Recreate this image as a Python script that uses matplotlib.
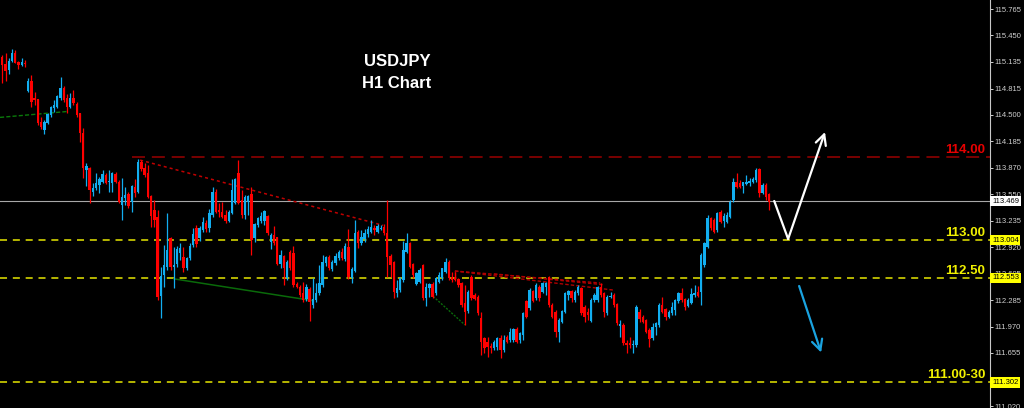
import matplotlib
matplotlib.use("Agg")
import matplotlib.pyplot as plt
import matplotlib.transforms as mtransforms
import numpy as np

plt.rcParams['font.family'] = ['Liberation Sans', 'DejaVu Sans']

# ---------------- data (USDJPY H1 candles) ----------------
opens = [
115.19,115.11,115.04,115.14,115.24,115.13,115.10,115.12,114.79,114.91,
114.70,114.69,114.42,114.32,114.40,114.50,114.58,114.59,114.70,114.82,
114.70,114.59,114.70,114.63,114.52,114.28,113.84,113.87,113.58,113.63,
113.66,113.70,113.78,113.70,113.69,113.79,113.70,113.42,113.51,113.55,
113.46,113.64,113.58,113.94,113.87,113.81,113.53,113.36,113.28,112.34,
112.59,112.68,113.03,112.68,112.72,112.85,112.80,112.67,112.79,112.95,
113.15,113.03,113.12,113.21,113.15,113.30,113.58,113.36,113.34,113.30,
113.23,113.33,113.45,113.81,113.48,113.30,113.46,113.55,113.03,113.18,
113.23,113.23,113.29,112.98,113.06,113.04,112.72,112.81,112.55,112.86,
112.85,112.48,112.44,112.37,112.30,112.42,112.23,112.29,112.37,112.47,
112.73,112.80,112.66,112.73,112.79,112.86,112.78,112.92,112.55,112.63,
113.10,112.97,113.02,113.08,113.10,113.15,113.10,113.14,113.16,113.09,
112.81,112.74,112.37,112.41,112.53,112.86,112.97,112.72,112.48,112.50,
112.71,112.31,112.43,112.48,112.37,112.50,112.55,112.62,112.74,112.56,
112.56,112.54,112.49,112.25,112.16,112.56,112.35,112.32,112.07,111.83,
111.79,111.74,111.71,111.73,111.83,111.69,111.85,111.81,111.81,111.94,
111.81,111.87,112.28,112.19,112.40,112.31,112.44,112.38,112.44,112.56,
112.23,112.14,111.91,112.02,112.14,112.35,112.40,112.29,112.37,112.43,
112.20,112.14,112.04,112.29,112.29,112.44,112.37,112.13,112.32,112.35,
112.24,111.98,111.99,111.77,111.77,111.75,111.75,112.14,112.08,112.05,
111.93,111.83,111.96,111.99,112.23,112.18,112.08,112.13,112.17,112.28,
112.37,112.30,112.22,112.25,112.35,112.38,112.38,112.71,112.92,113.27,
113.24,113.12,113.34,113.23,113.22,113.28,113.48,113.70,113.69,113.65,
113.67,113.69,113.70,113.72,113.85,113.57,113.66,113.55]

highs = [
115.21,115.24,115.18,115.29,115.28,115.14,115.18,115.16,114.94,114.98,
114.77,114.69,114.47,114.44,114.52,114.61,114.68,114.74,114.95,114.85,
114.75,114.76,114.80,114.65,114.52,114.34,113.93,113.88,113.69,113.81,
113.76,113.84,113.81,113.84,113.82,113.82,113.72,113.75,113.64,113.58,
113.66,113.73,113.97,113.96,113.93,113.90,113.54,113.48,113.36,112.68,
112.95,113.33,113.04,112.92,112.93,112.97,112.92,112.80,112.97,113.15,
113.18,113.17,113.28,113.24,113.38,113.64,113.61,113.45,113.46,113.36,
113.36,113.73,113.75,113.96,113.60,113.54,113.54,113.64,113.21,113.28,
113.34,113.36,113.30,113.09,113.17,113.04,112.89,112.83,112.77,112.89,
112.93,112.50,112.47,112.50,112.48,112.44,112.55,112.49,112.71,112.83,
112.81,112.83,112.77,112.85,112.89,112.91,112.97,113.14,112.68,113.24,
113.12,113.12,113.14,113.17,113.24,113.18,113.20,113.18,113.20,113.48,
112.84,112.75,112.53,112.56,112.99,113.09,112.98,112.73,112.62,112.67,
112.72,112.49,112.49,112.50,112.56,112.62,112.67,112.79,112.77,112.62,
112.62,112.55,112.50,112.47,112.41,112.59,112.37,112.35,112.14,111.85,
111.85,111.77,111.81,111.85,111.87,111.87,111.87,111.95,111.95,111.96,
111.91,112.14,112.29,112.43,112.41,112.49,112.47,112.50,112.50,112.57,
112.25,112.17,112.07,112.17,112.38,112.41,112.41,112.41,112.47,112.44,
112.23,112.19,112.31,112.37,112.46,112.49,112.38,112.35,112.38,112.37,
112.25,112.05,112.01,111.81,111.85,111.81,112.23,112.18,112.11,112.06,
111.95,112.01,112.02,112.25,112.32,112.19,112.17,112.26,112.30,112.38,
112.43,112.31,112.31,112.43,112.47,112.46,112.85,112.98,113.30,113.28,
113.27,113.34,113.36,113.33,113.34,113.48,113.75,113.81,113.72,113.70,
113.78,113.75,113.76,113.87,113.87,113.69,113.69,113.57]

lows = [
114.88,114.91,114.99,115.13,115.12,115.05,115.08,115.07,114.77,114.59,
114.62,114.38,114.33,114.27,114.39,114.47,114.53,114.58,114.68,114.65,
114.52,114.58,114.62,114.47,114.18,113.75,113.65,113.45,113.53,113.60,
113.57,113.69,113.67,113.58,113.58,113.69,113.45,113.24,113.42,113.39,
113.34,113.52,113.57,113.83,113.76,113.51,113.16,113.16,112.29,112.07,
112.44,112.65,112.65,112.43,112.68,112.77,112.62,112.65,112.77,112.92,
112.92,112.99,113.10,113.10,113.10,113.28,113.33,113.28,113.27,113.21,
113.22,113.32,113.44,113.44,113.27,113.26,113.30,112.83,112.98,113.16,
113.21,113.18,113.06,112.90,112.95,112.71,112.67,112.47,112.53,112.65,
112.44,112.43,112.32,112.26,112.28,112.04,112.19,112.26,112.35,112.44,
112.69,112.65,112.63,112.71,112.77,112.77,112.75,112.54,112.49,112.62,
112.91,112.95,112.98,113.04,113.09,113.06,113.09,113.12,113.06,112.56,
112.56,112.31,112.32,112.38,112.50,112.85,112.67,112.55,112.47,112.49,
112.29,112.22,112.32,112.31,112.35,112.49,112.53,112.61,112.53,112.50,
112.51,112.44,112.20,111.99,112.13,112.29,112.29,112.11,111.63,111.65,
111.61,111.65,111.69,111.69,111.59,111.67,111.77,111.79,111.79,111.77,
111.77,111.81,112.07,112.17,112.26,112.29,112.28,112.37,112.35,112.20,
112.07,111.85,111.79,112.01,112.13,112.29,112.26,112.26,112.35,112.11,
112.02,112.05,112.02,112.26,112.26,112.32,112.08,112.11,112.31,112.20,
111.99,111.85,111.75,111.65,111.71,111.65,111.73,112.02,112.01,111.89,
111.73,111.81,111.87,111.96,112.13,112.05,112.07,112.11,112.11,112.25,
112.26,112.17,112.20,112.24,112.32,112.32,112.23,112.68,112.91,113.12,
113.09,113.10,113.21,113.16,113.21,113.27,113.46,113.63,113.63,113.57,
113.66,113.65,113.69,113.70,113.52,113.55,113.48,113.36]

closes = [
115.10,115.02,115.14,115.24,115.12,115.10,115.13,115.11,114.91,114.65,
114.68,114.40,114.36,114.42,114.51,114.59,114.62,114.73,114.82,114.68,
114.59,114.70,114.64,114.50,114.28,113.87,113.89,113.60,113.63,113.69,
113.73,113.79,113.69,113.71,113.81,113.70,113.46,113.52,113.54,113.41,
113.65,113.57,113.94,113.85,113.78,113.52,113.29,113.24,112.32,112.57,
112.71,112.89,112.68,112.71,112.90,112.91,112.67,112.79,112.93,113.08,
112.96,113.15,113.22,113.14,113.33,113.58,113.34,113.34,113.28,113.23,
113.34,113.60,113.73,113.45,113.30,113.52,113.53,113.00,113.20,113.27,
113.29,113.35,113.09,113.06,112.97,112.72,112.83,112.67,112.74,112.67,
112.47,112.44,112.35,112.29,112.44,112.26,112.30,112.37,112.49,112.74,
112.80,112.67,112.74,112.81,112.86,112.79,112.93,112.56,112.66,113.09,
112.97,113.04,113.09,113.14,113.16,113.12,113.17,113.15,113.09,112.80,
112.71,112.38,112.43,112.55,112.89,112.97,112.68,112.59,112.61,112.65,
112.31,112.44,112.48,112.32,112.55,112.59,112.67,112.74,112.55,112.53,
112.53,112.47,112.23,112.14,112.38,112.31,112.30,112.13,111.79,111.71,
111.73,111.71,111.79,111.83,111.69,111.81,111.79,111.91,111.94,111.79,
111.89,112.13,112.08,112.41,112.28,112.47,112.31,112.49,112.49,112.23,
112.08,111.91,112.05,112.16,112.37,112.40,112.31,112.38,112.44,112.13,
112.08,112.11,112.29,112.35,112.44,112.35,112.14,112.32,112.34,112.23,
112.01,112.00,111.77,111.75,111.75,111.76,112.20,112.06,112.02,111.91,
111.82,111.96,112.01,112.23,112.14,112.08,112.14,112.20,112.29,112.37,
112.29,112.20,112.29,112.36,112.37,112.34,112.83,112.97,113.27,113.15,
113.10,113.33,113.22,113.29,113.30,113.46,113.70,113.64,113.64,113.70,
113.70,113.71,113.73,113.84,113.57,113.66,113.52,113.46]

# price axis ticks
tick_values = [115.765, 115.450, 115.135, 114.815, 114.500, 114.185, 113.870,
               113.550, 113.235, 112.920, 112.605, 112.285, 111.970, 111.655,
               111.340, 111.020]

# horizontal levels
bid_level = 113.469
level_114 = 114.00
yellow_levels = [113.004, 112.553, 111.302]
yellow_texts = ["113.00", "112.50", "111.00-30"]

assert len(opens) == len(highs) == len(lows) == len(closes)

# ---------------- figure ----------------
BLUE = '#12aef0'
RED = '#ff0000'
YEL = '#e6e600'

fig = plt.figure(figsize=(10.24, 4.08), dpi=100, facecolor='black')
ax = fig.add_axes([0, 0, 990 / 1024, 1])
ax.set_facecolor('black')

o = np.array(opens); h = np.array(highs); l = np.array(lows); c = np.array(closes)
x = np.arange(len(c))
up = c >= o
cols = np.where(up, BLUE, RED)

ax.set_xlim(-0.71, 305.3)
ax.set_ylim(110.997, 115.873)

# reference lines (behind candles)
ax.axhline(bid_level, color='#a8a8a8', lw=0.8, zorder=1)
for lv in yellow_levels:
    ax.axhline(lv, color=YEL, lw=1.1, linestyle=(0, (4.6, 3.8)), zorder=1)
ax.plot([40.1, 305.3], [level_114, level_114], color='#9a0000', lw=1.1,
        linestyle=(0, (8.5, 4.5)), zorder=1)

# trend lines
ax.plot([42.6, 117.7], [113.96, 113.18], color='#c00000', lw=1.1,
        linestyle=(0, (2.0, 2.0)), zorder=1)
ax.plot([-0.7, 19.9], [114.47, 114.54], color='#0a7a0a', lw=1.0,
        linestyle=(0, (3.0, 1.5)), zorder=1)
ax.plot([53.1, 96.0], [112.54, 112.28], color='#0a6a0a', lw=1.1, zorder=1)
ax.plot([133.2, 143.0], [112.33, 111.99], color='#0a6a0a', lw=1.0,
        linestyle=(0, (1.5, 1.0)), zorder=1)
ax.plot([139.9, 184.8], [112.634, 112.491], color='#b00000', lw=1.0,
        linestyle=(0, (2.5, 1.5)), zorder=1)
ax.plot([139.9, 188.8], [112.634, 112.407], color='#b00000', lw=1.0,
        linestyle=(0, (2.5, 1.5)), zorder=1)
ax.plot([152.0, 186.0], [112.60, 112.47], color='#b00000', lw=1.0,
        linestyle=(0, (2.5, 1.5)), zorder=1)
ax.plot([139.9, 139.9], [112.634, 112.55], color='#b00000', lw=1.0, zorder=1)

# candles
ax.vlines(x, l, h, colors=cols, lw=0.9, zorder=2)
body_low = np.minimum(o, c)
body_h = np.maximum(np.abs(c - o), 0.01)
ax.bar(x, body_h, bottom=body_low, width=0.74, color=cols, linewidth=0, zorder=3)

# projection arrows
ax.plot([238.6, 242.9], [113.471, 113.017], color='white', lw=1.6,
        solid_capstyle='round', zorder=4)
ax.annotate('', xy=(254.3, 114.295), xytext=(242.9, 113.017),
            arrowprops=dict(arrowstyle='->,head_length=0.75,head_width=0.38',
                            color='white', lw=1.6, shrinkA=0, shrinkB=0),
            zorder=4)
ax.annotate('', xy=(253.1, 111.66), xytext=(246.3, 112.455),
            arrowprops=dict(arrowstyle='->,head_length=0.75,head_width=0.38',
                            color='#1aa3e0', lw=1.6, shrinkA=0, shrinkB=0),
            zorder=4)

# level labels
bt = mtransforms.blended_transform_factory(ax.transAxes, ax.transData)
ax.annotate("114.00", xy=(0.995, level_114), xycoords=bt, xytext=(0, 4),
            textcoords='offset pixels', ha='right', va='baseline',
            fontsize=9.5, fontweight='bold', color='#e60000', zorder=5)
for lv, t in zip(yellow_levels, yellow_texts):
    ax.annotate(t, xy=(0.995, lv), xycoords=bt, xytext=(0, 4),
                textcoords='offset pixels', ha='right', va='baseline',
                fontsize=9.5, fontweight='bold', color='#f0f000', zorder=5)

# title
fig.text(397 / 1024, 1 - 62 / 408, "USDJPY", color='white', fontsize=12,
         fontweight='bold', ha='center', va='center')
fig.text(397 / 1024, 1 - 83 / 408, "H1 Chart", color='white', fontsize=12,
         fontweight='bold', ha='center', va='center')

# axes styling
for s in ['left', 'top', 'bottom']:
    ax.spines[s].set_visible(False)
ax.spines['right'].set_color('#c8c8c8')
ax.spines['right'].set_linewidth(0.8)
ax.set_xticks([])
ax.yaxis.tick_right()
ax.set_yticks(tick_values)
ax.set_yticklabels([f"{v:.3f}" for v in tick_values])
ax.tick_params(axis='y', colors='#d0d0d0', labelsize=5.5, length=2.5,
               width=0.7, pad=1.0)

# price boxes on the axis
for lv in yellow_levels:
    ax.text(1.002, lv, f"{lv:.3f}", transform=bt, ha='left', va='center',
            fontsize=5.5, color='black', clip_on=False, zorder=10,
            bbox=dict(boxstyle='square,pad=0.2', fc='#ffff00', ec='none'))
ax.text(1.002, bid_level, f"{bid_level:.3f}", transform=bt, ha='left',
        va='center', fontsize=5.5, color='black', clip_on=False, zorder=10,
        bbox=dict(boxstyle='square,pad=0.2', fc='white', ec='none'))

fig.savefig('out.png', dpi=100, facecolor='black')
